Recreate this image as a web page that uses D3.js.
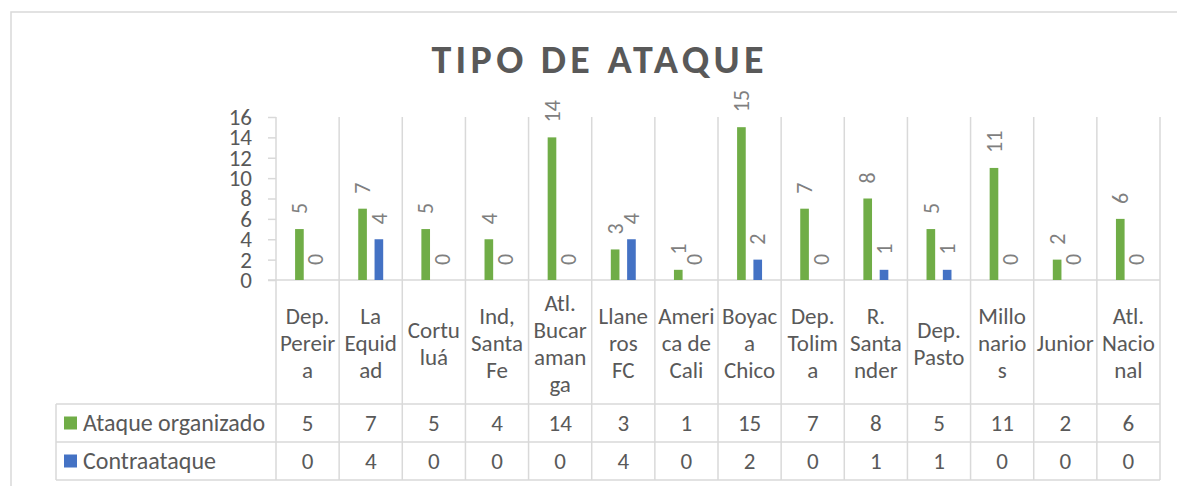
<!DOCTYPE html>
<html>
<head>
<meta charset="utf-8">
<script src="https://cdn.jsdelivr.net/npm/d3@7"></script>
<style>
  body { margin: 0; background: #ffffff; }
  text { font-family: Carlito, Calibri, Lato, sans-serif; fill: #595959; }
</style>
</head>
<body>
<div id="chart"></div>
<script>

// chart data
var categories = ["Dep. Pereira", "La Equidad", "Cortuluá", "Ind, Santa Fe",
    "Atl. Bucaramanga", "Llaneros FC", "America de Cali", "Boyaca Chico",
    "Dep. Tolima", "R. Santander", "Dep. Pasto", "Millonarios", "Junior",
    "Atl. Nacional"]

// how the category labels wrap in the table header
var category_lines = [["Dep.", "Pereir", "a"], ["La", "Equid", "ad"], ["Cortu", "luá"],
    ["Ind,", "Santa", "Fe"], ["Atl.", "Bucar", "aman", "ga"], ["Llane", "ros", "FC"],
    ["Ameri", "ca de", "Cali"], ["Boyac", "a", "Chico"], ["Dep.", "Tolim", "a"],
    ["R.", "Santa", "nder"], ["Dep.", "Pasto"], ["Millo", "nario", "s"], ["Junior"],
    ["Atl.", "Nacio", "nal"]]

var ataque_organizado = [5, 7, 5, 4, 14, 3, 1, 15, 7, 8, 5, 11, 2, 6]
var contraataque = [0, 4, 0, 0, 0, 4, 0, 2, 0, 1, 1, 0, 0, 0]

var series_names = ["Ataque organizado", "Contraataque"]
var series_colors = ["#70ad47", "#4472c4"]
var y_ticks = [0, 2, 4, 6, 8, 10, 12, 14, 16]
var chart_title = "TIPO DE ATAQUE"

// layout of the chart
var width = 1177,
    height = 486,
    plot = {left: 276, right: 1160, top: 117, bottom: 280},
    table = {left: 56, header_bottom: 404, row_height: 38},
    grid_colour = "#d9d9d9",
    font_size = "23px"

var series = series_names.map(function(name, i) {
    return {name: name, colour: series_colors[i],
            values: i == 0 ? ataque_organizado : contraataque}
})

var svg = d3.select("#chart").append("svg")
    .attr("width", width)
    .attr("height", height)

// outer frame of the chart
svg.append("path")
    .attr("d", "M11," + height + "V12H" + width)
    .attr("fill", "none")
    .attr("stroke", grid_colour)
    .attr("stroke-width", 1.5)

// title
svg.append("text")
    .attr("x", 597.5)
    .attr("y", 72.5)
    .attr("text-anchor", "middle")
    .attr("textLength", 332)
    .attr("lengthAdjust", "spacing")
    .style("font-size", "40px")
    .style("font-weight", "bold")
    .text(chart_title)

// scales
var x = d3.scaleBand()
    .domain(categories)
    .range([plot.left, plot.right])

var x_sub = d3.scaleBand()
    .domain(series_names)
    .range([0, x.bandwidth()])
    .paddingInner(0.47)
    .paddingOuter(1.17)

var y = d3.scaleLinear()
    .domain([0, 16])
    .range([plot.bottom, plot.top])

// y axis with small ticks
var y_axis = svg.append("g")
    .attr("transform", "translate(" + plot.left + ",0)")
    .call(d3.axisLeft(y).tickValues(y_ticks).tickSize(8).tickPadding(16))

y_axis.select(".domain").remove()
y_axis.selectAll("line").attr("stroke", grid_colour).attr("stroke-width", 1.5)
y_axis.selectAll("text")
    .attr("fill", "#595959")
    .style("font-size", font_size)
    .style("font-family", "Carlito, Calibri, Lato, sans-serif")

// vertical grid lines between categories, through the table
var boundaries = categories.map(function(c) { return x(c) }).concat([plot.right])
var table_bottom = table.header_bottom + series.length * table.row_height

svg.selectAll(".vgrid")
    .data(boundaries)
    .enter().append("line")
    .attr("class", "vgrid")
    .attr("x1", function(d) { return d })
    .attr("x2", function(d) { return d })
    .attr("y1", plot.top)
    .attr("y2", table_bottom)
    .attr("stroke", grid_colour)
    .attr("stroke-width", 1.5)

// horizontal axis line and table row lines
var row_lines = [table.header_bottom]
series.forEach(function(s, i) {
    row_lines.push(table.header_bottom + (i + 1) * table.row_height)
})

svg.append("line")
    .attr("x1", plot.left - 8)
    .attr("x2", plot.right)
    .attr("y1", y(0))
    .attr("y2", y(0))
    .attr("stroke", grid_colour)
    .attr("stroke-width", 1.5)

svg.selectAll(".hrow")
    .data(row_lines)
    .enter().append("line")
    .attr("class", "hrow")
    .attr("x1", table.left)
    .attr("x2", plot.right)
    .attr("y1", function(d) { return d })
    .attr("y2", function(d) { return d })
    .attr("stroke", grid_colour)
    .attr("stroke-width", 1.5)

svg.append("line")
    .attr("x1", table.left)
    .attr("x2", table.left)
    .attr("y1", table.header_bottom)
    .attr("y2", table_bottom)
    .attr("stroke", grid_colour)
    .attr("stroke-width", 1.5)

// bars and their rotated value labels
var groups = svg.selectAll(".series")
    .data(series)
    .enter().append("g")
    .attr("class", "series")

groups.selectAll("rect")
    .data(function(s) {
        return s.values.map(function(v, i) {
            return {cat: categories[i], value: v, name: s.name, colour: s.colour}
        })
    })
    .enter().append("rect")
    .attr("x", function(d) { return x(d.cat) + x_sub(d.name) })
    .attr("width", x_sub.bandwidth())
    .attr("y", function(d) { return y(d.value) })
    .attr("height", function(d) { return y(0) - y(d.value) })
    .attr("fill", function(d) { return d.colour })

groups.selectAll(".bar_label")
    .data(function(s) {
        return s.values.map(function(v, i) {
            return {cat: categories[i], value: v, name: s.name}
        })
    })
    .enter().append("text")
    .attr("class", "bar_label")
    .attr("transform", function(d) {
        var cx = x(d.cat) + x_sub(d.name) + x_sub.bandwidth() / 2
        return "translate(" + cx + "," + (y(d.value) - 15) + ") rotate(-90)"
    })
    .attr("dy", "0.35em")
    .style("font-size", "22px")
    .style("fill", "#7f7f7f")
    .text(function(d) { return d.value })

// category labels in the table header
var header_mid = (plot.bottom + table.header_bottom) / 2 + 1
var line_height = 27

svg.selectAll(".cat_label")
    .data(categories)
    .enter().append("text")
    .attr("class", "cat_label")
    .attr("x", function(d) { return x(d) + x.bandwidth() / 2 })
    .attr("text-anchor", "middle")
    .style("font-size", font_size)
    .each(function(d, i) {
        var lines = category_lines[i]
        var first = header_mid - (lines.length - 1) * line_height / 2
        d3.select(this).selectAll("tspan")
            .data(lines)
            .enter().append("tspan")
            .attr("x", x(d) + x.bandwidth() / 2)
            .attr("y", function(l, j) { return first + j * line_height })
            .attr("dy", "0.35em")
            .text(function(l) { return l })
    })

// table rows: legend key, name and the values
series.forEach(function(s, i) {
    var row_mid = table.header_bottom + i * table.row_height + table.row_height / 2

    svg.append("rect")
        .attr("x", 64)
        .attr("y", row_mid - 6.5)
        .attr("width", 13)
        .attr("height", 13)
        .attr("fill", s.colour)

    svg.append("text")
        .attr("x", 83)
        .attr("y", row_mid)
        .attr("dy", "0.35em")
        .style("font-size", "24px")
        .text(s.name)

    svg.selectAll(".cell_" + i)
        .data(s.values)
        .enter().append("text")
        .attr("class", "cell_" + i)
        .attr("x", function(v, j) { return x(categories[j]) + x.bandwidth() / 2 })
        .attr("y", row_mid)
        .attr("dy", "0.35em")
        .attr("text-anchor", "middle")
        .style("font-size", font_size)
        .text(function(v) { return v })
})

</script>
</body>
</html>
